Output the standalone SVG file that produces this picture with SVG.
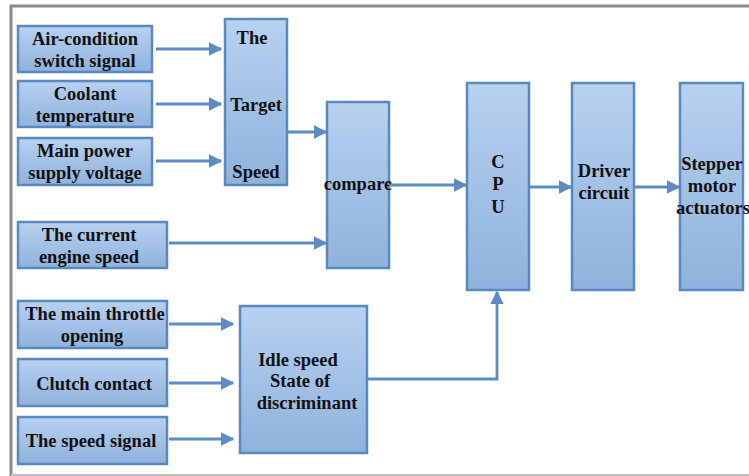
<svg xmlns="http://www.w3.org/2000/svg" width="749" height="476" viewBox="0 0 749 476">
<defs>
<linearGradient id="g" x1="0" y1="0" x2="0" y2="1">
<stop offset="0" stop-color="#b7d1f0"/>
<stop offset="1" stop-color="#8fb2dc"/>
</linearGradient>
<marker id="a" viewBox="0 0 10 10" refX="9" refY="5" markerWidth="4.8" markerHeight="4.8" orient="auto" markerUnits="strokeWidth">
<path d="M0,0 L10,5 L0,10 z" fill="#5b8cc3"/>
</marker>
<style>
.b{fill:url(#g);stroke:#5a89bf;stroke-width:2.5}
.t{font-family:"Liberation Serif","Times New Roman",serif;font-weight:bold;font-size:18.5px;fill:#111;text-anchor:middle}
.c{fill:none;stroke:#5b8cc3;stroke-width:2.8}
</style>
</defs>
<rect width="749" height="476" fill="#fff"/>
<path d="M11,476 L11,6 L749,6" fill="none" stroke="#8a8a8a" stroke-width="3"/>
<line x1="11" y1="475" x2="749" y2="475" stroke="#c0c0c0" stroke-width="2"/>

<g id="air"><rect class="b" x="18" y="26" width="134" height="46"/><text class="t" x="85" y="45">Air-condition</text><text class="t" x="85" y="67">switch signal</text></g>
<g id="coolant"><rect class="b" x="18" y="81" width="134" height="46"/><text class="t" x="85" y="100">Coolant</text><text class="t" x="85" y="122">temperature</text></g>
<g id="mainpower"><rect class="b" x="18" y="138" width="134" height="47"/><text class="t" x="85" y="157">Main power</text><text class="t" x="85" y="179">supply voltage</text></g>
<g id="target"><rect class="b" x="225" y="19" width="62" height="166"/><text class="t" x="252" y="44">The</text><text class="t" x="256" y="111">Target</text><text class="t" x="256" y="178">Speed</text></g>
<g id="compare"><rect class="b" x="327" y="102" width="62" height="166"/><text class="t" x="358" y="190">compare</text></g>
<g id="current"><rect class="b" x="18" y="222" width="149" height="46"/><text class="t" x="89" y="241">The current</text><text class="t" x="89" y="263">engine speed</text></g>
<g id="cpu"><rect class="b" x="467" y="83" width="62" height="207"/><text class="t" x="498" y="168">C</text><text class="t" x="498" y="190">P</text><text class="t" x="498" y="213">U</text></g>
<g id="driver"><rect class="b" x="572" y="83" width="62" height="207"/><text class="t" x="604" y="177">Driver</text><text class="t" x="604" y="199">circuit</text></g>
<g id="stepper"><rect class="b" x="680" y="83" width="63" height="207"/><text class="t" x="712" y="170">Stepper</text><text class="t" x="712" y="192">motor</text><text class="t" x="713" y="214">actuators</text></g>
<g id="throttle"><rect class="b" x="18" y="301" width="149" height="47"/><text class="t" x="95" y="320">The main throttle</text><text class="t" x="92" y="342">opening</text></g>
<g id="clutch"><rect class="b" x="18" y="359" width="149" height="47"/><text class="t" x="94" y="390">Clutch contact</text></g>
<g id="speedsig"><rect class="b" x="18" y="417" width="149" height="47"/><text class="t" x="91" y="447">The speed signal</text></g>
<g id="idle"><rect class="b" x="240" y="306" width="127" height="147"/><text class="t" x="298" y="366">Idle speed</text><text class="t" x="300" y="387">State of</text><text class="t" x="307" y="409">discriminant</text></g>

<g id="connectors">
<line class="c" x1="156" y1="49" x2="221" y2="49" marker-end="url(#a)"/>
<line class="c" x1="156" y1="104" x2="221" y2="104" marker-end="url(#a)"/>
<line class="c" x1="156" y1="161" x2="221" y2="161" marker-end="url(#a)"/>
<line class="c" x1="287" y1="132" x2="326" y2="132" marker-end="url(#a)"/>
<line class="c" x1="169" y1="243" x2="326" y2="243" marker-end="url(#a)"/>
<line class="c" x1="389" y1="185" x2="466" y2="185" marker-end="url(#a)"/>
<line class="c" x1="529" y1="187" x2="571" y2="187" marker-end="url(#a)"/>
<line class="c" x1="634" y1="187" x2="679" y2="187" marker-end="url(#a)"/>
<line class="c" x1="169" y1="324" x2="233" y2="324" marker-end="url(#a)"/>
<line class="c" x1="169" y1="383" x2="233" y2="383" marker-end="url(#a)"/>
<line class="c" x1="169" y1="439" x2="233" y2="439" marker-end="url(#a)"/>
<polyline class="c" points="367,379 497,379 497,292" marker-end="url(#a)"/>
</g>
</svg>
